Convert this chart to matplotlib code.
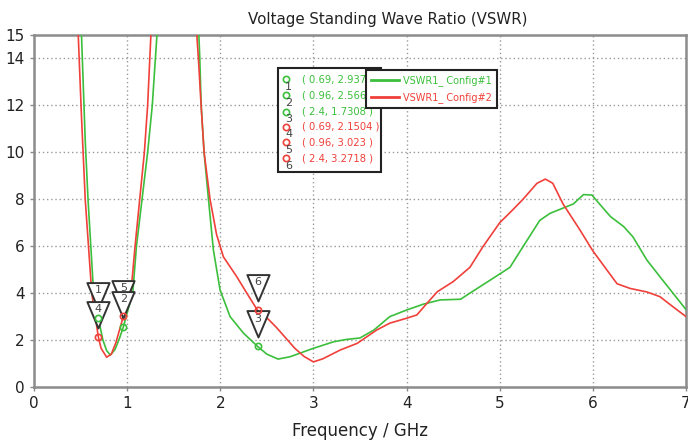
import matplotlib
matplotlib.use("Agg")
import matplotlib.pyplot as plt
from matplotlib.path import Path
from matplotlib.patches import Rectangle

# ---- data ----
freq_cfg1 = [0.51, 0.55, 0.58, 0.61, 0.64, 0.69, 0.74, 0.78, 0.82, 0.87, 0.92, 0.96,
             1.01, 1.06, 1.10, 1.16, 1.22, 1.27, 1.32]
vswr_cfg1 = [15, 10.5, 8.0, 6.0, 4.0, 2.937, 2.0, 1.55, 1.36, 1.6, 2.1, 2.566,
             3.3, 4.0, 6.0, 8.0, 10.0, 12.0, 15]
freq_cfg1_b = [1.77, 1.78, 1.795, 1.826, 1.873, 1.926, 1.998, 2.105, 2.25, 2.40, 2.5, 2.62,
               2.75, 3.0, 3.22, 3.36, 3.5, 3.65, 3.82, 4.0, 4.18, 4.36, 4.58, 4.68,
               4.9, 5.11, 5.25, 5.43, 5.54, 5.79, 5.9, 5.99, 6.08, 6.19, 6.33, 6.43,
               6.58, 6.72, 6.86, 7.0]
vswr_cfg1_b = [15, 14, 12, 10, 8.0, 5.84, 4.13, 3.0, 2.29, 1.7308, 1.4, 1.19,
               1.29, 1.65, 1.93, 2.03, 2.09, 2.43, 3.0, 3.28, 3.53, 3.71, 3.74, 4.0,
               4.56, 5.1, 5.98, 7.1, 7.4, 7.8, 8.2, 8.18, 7.76, 7.26, 6.84, 6.4,
               5.41, 4.7, 4.0, 3.3]

freq_cfg2 = [0.475, 0.51, 0.55, 0.585, 0.62, 0.69, 0.72, 0.78, 0.83, 0.88, 0.96,
             1.04, 1.085, 1.135, 1.185, 1.22, 1.255]
vswr_cfg2 = [15, 11.5, 8.0, 6.0, 4.0, 2.1504, 1.65, 1.27, 1.4, 1.9, 3.023,
             4.0, 6.0, 8.0, 10.0, 12.0, 15]
freq_cfg2_b = [1.748, 1.765, 1.794, 1.826, 1.89, 1.96, 2.033, 2.177, 2.3, 2.40, 2.5, 2.6,
               2.7, 2.8, 2.9, 3.0, 3.1, 3.29, 3.47, 3.68, 3.82, 4.0, 4.11, 4.22,
               4.33, 4.5, 4.68, 4.82, 5.0, 5.14, 5.25, 5.4, 5.49, 5.57, 5.68, 5.86,
               6.0, 6.15, 6.26, 6.4, 6.58, 6.72, 6.86, 7.0]
vswr_cfg2_b = [15, 14, 12, 10, 8.0, 6.5, 5.55, 4.7, 3.9, 3.2718, 2.95, 2.55,
               2.1, 1.65, 1.3, 1.07, 1.2, 1.58, 1.86, 2.43, 2.72, 2.93, 3.07, 3.57,
               4.06, 4.49, 5.1, 5.98, 7.0, 7.55, 8.0, 8.68, 8.86, 8.68, 7.8, 6.7,
               5.8, 4.99, 4.4, 4.2, 4.05, 3.85, 3.42, 3.0]

marker_ids = [1, 2, 3, 4, 5, 6]
marker_freq = [0.69, 0.96, 2.4, 0.69, 0.96, 2.4]
marker_vswr = [2.937, 2.566, 1.7308, 2.1504, 3.023, 3.2718]
marker_text = ["( 0.69, 2.937 )", "( 0.96, 2.566 )", "( 2.4, 1.7308 )",
               "( 0.69, 2.1504 )", "( 0.96, 3.023 )", "( 2.4, 3.2718 )"]

GREEN = "#3cbf3c"
RED = "#f0403a"
marker_color = [GREEN, GREEN, GREEN, RED, RED, RED]

fig = plt.figure(figsize=(6.88, 4.42), dpi=100)
ax = fig.add_axes([34 / 688, 1 - 387 / 442, 652 / 688, 352 / 442])

ax.plot(freq_cfg1, vswr_cfg1, color=GREEN, lw=1.2, label="VSWR1_ Config#1", zorder=3)
ax.plot(freq_cfg1_b, vswr_cfg1_b, color=GREEN, lw=1.2, zorder=3)
ax.plot(freq_cfg2, vswr_cfg2, color=RED, lw=1.2, label="VSWR1_ Config#2", zorder=3)
ax.plot(freq_cfg2_b, vswr_cfg2_b, color=RED, lw=1.2, zorder=3)

# flag markers: open triangle sitting above each point
tri = Path([(-8, 25.5), (8, 25.5), (0, 6.5), (-8, 25.5)],
           [Path.MOVETO, Path.LINETO, Path.LINETO, Path.CLOSEPOLY])
order = sorted(range(6), key=lambda i: -marker_vswr[i])
for k, i in enumerate(order):
    z = 6 + k
    ax.plot(marker_freq[i], marker_vswr[i], marker=tri, markersize=51,
            markerfacecolor="white", markeredgecolor="#333333", mew=1.4,
            zorder=z, clip_on=False)
    ax.annotate(str(marker_ids[i]), (marker_freq[i], marker_vswr[i]),
                xytext=(0, 20), textcoords="offset points", ha="center", va="center",
                fontsize=8, color="#444444", zorder=z)
    ax.plot(marker_freq[i], marker_vswr[i], "o", ms=4.5, mfc="none",
            mec=marker_color[i], mew=1.2, zorder=20)

ax.set_xlim(0, 7)
ax.set_ylim(0, 15)
ax.set_xticks(range(0, 8))
ax.set_yticks([0, 2, 4, 6, 8, 10, 12, 14, 15])
ax.tick_params(labelsize=11, colors="#222222", length=3, width=1)
ax.tick_params(axis="both", color="#888888")
ax.grid(True, color="#999999", linestyle=(0, (1, 2)), lw=1)
ax.set_axisbelow(True)
for s in ax.spines.values():
    s.set_color("#8c8c8c")
    s.set_linewidth(1.8)

ax.set_title("Voltage Standing Wave Ratio (VSWR)", fontsize=10.8, pad=8, color="#222222",
             x=0.543)
ax.set_xlabel("Frequency / GHz", fontsize=12, labelpad=8, color="#222222")

# marker value table
ax.add_patch(Rectangle((0.3747, 0.6117), 0.532 - 0.3747, 0.9054 - 0.6117,
                       transform=ax.transAxes, facecolor="white", edgecolor="#222222",
                       lw=1.5, zorder=30))
row_px = [79, 95, 111.7, 126.7, 142.3, 158.3]
for i, yp in enumerate(row_px):
    yf = 1 - (yp - 35) / 352
    ax.plot(0.3865, yf, "o", ms=4.5, mfc="none", mec=marker_color[i], mew=1.2,
            transform=ax.transAxes, zorder=31, clip_on=False)
    ax.text(0.3905, yf - 0.022, str(marker_ids[i]), transform=ax.transAxes,
            fontsize=8, color="#444444", ha="center", va="center", zorder=31)
    ax.text(0.4106, yf, marker_text[i], transform=ax.transAxes, fontsize=7.2,
            color=marker_color[i], ha="left", va="center", zorder=31)

leg = ax.legend(loc="upper left", bbox_to_anchor=(0.5087, 0.9006), fontsize=7,
                fancybox=False, edgecolor="#222222", framealpha=1, handlelength=2.9,
                handletextpad=0.35, borderpad=0.55, labelspacing=0.6, borderaxespad=0)
leg.get_frame().set_linewidth(1.5)
leg.set_zorder(40)
for t, c in zip(leg.get_texts(), [GREEN, RED]):
    t.set_color(c)
for h in leg.legend_handles:
    h.set_linewidth(2)

fig.savefig("out.png", dpi=100)
